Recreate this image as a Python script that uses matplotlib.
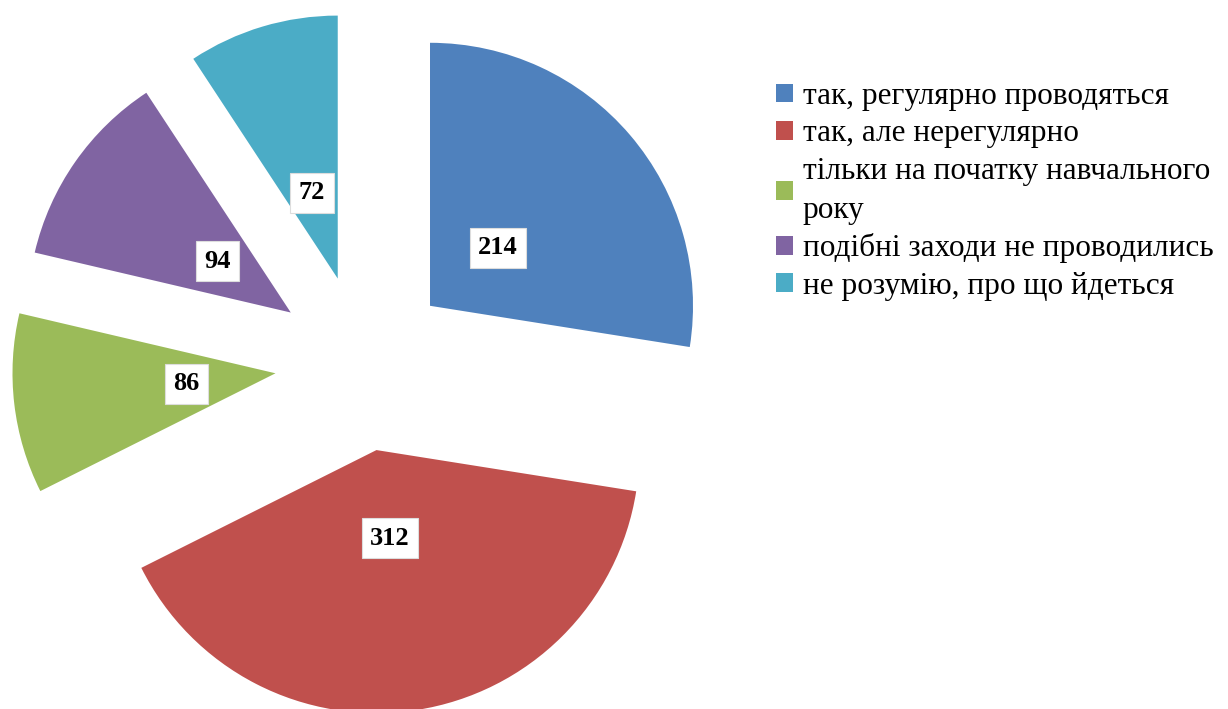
import matplotlib
matplotlib.use("Agg")
import matplotlib.pyplot as plt
from matplotlib.patches import Patch

categories = ["так, регулярно проводяться",
              "так, але нерегулярно",
              "тільки на початку навчального\nроку",
              "подібні заходи не проводились",
              "не розумію, про що йдеться"]
values = [214, 312, 86, 94, 72]
colors = ["#4F81BD", "#C0504D", "#9BBB59", "#8064A2", "#4BACC6"]

W, H = 1228, 709
fig = plt.figure(figsize=(W / 100, H / 100), dpi=100)
fig.patch.set_facecolor("white")

# pie geometry in pixels: center (363,363) from top-left, radius 263
cx, cy, R = 363, 363, 263
lim = 1.38
half = lim * R
ax = fig.add_axes([(cx - half) / W, 1 - (cy + half) / H, 2 * half / W, 2 * half / H])

total = sum(values)
wedges, texts, autotexts = ax.pie(
    values, colors=colors, startangle=90, counterclock=False,
    explode=[0.335] * len(values),
    autopct=lambda p: f"{round(p * total / 100)}", pctdistance=0.34,
    wedgeprops=dict(linewidth=0),
    textprops=dict(family="Liberation Serif", fontsize=19, fontweight="bold", color="black"))
for t in autotexts:
    t.set_bbox(dict(boxstyle="square,pad=0.32", facecolor="white", edgecolor="#dddddd", linewidth=0.8))
ax.set_xlim(-lim, lim)
ax.set_ylim(-lim, lim)
ax.set_aspect("equal")
ax.axis("off")

handles = [Patch(facecolor=c, edgecolor="none") for c in colors]
leg = fig.legend(handles, categories, loc="upper left", bbox_to_anchor=(776 / W, 1 - 82 / H),
                 frameon=False, prop=dict(family="Liberation Serif", size=22.5),
                 handlelength=0.55, handleheight=0.55, handletextpad=0.3,
                 labelspacing=0.27, borderaxespad=0, borderpad=0)
for t in leg.get_texts():
    t.set_linespacing(1.45)

fig.savefig("out.png", dpi=100, facecolor="white")
